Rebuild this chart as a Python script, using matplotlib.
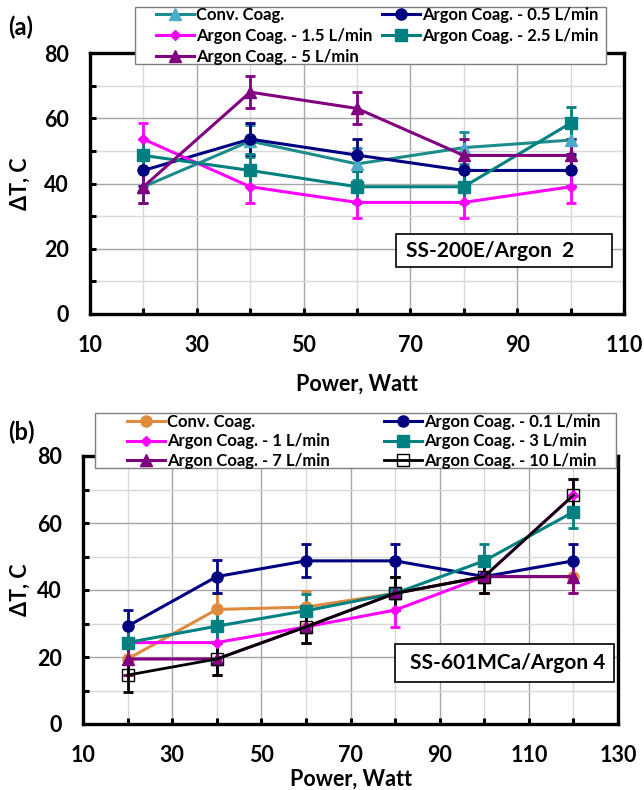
import numpy as np
import matplotlib
matplotlib.use("Agg")
import matplotlib.pyplot as plt
from matplotlib.patches import Rectangle
from matplotlib.ticker import MultipleLocator

plt.rcParams['font.family'] = ['Lato', 'DejaVu Sans']
plt.rcParams['font.weight'] = 'bold'

# ---- panel (a) data: SS-200E / Argon 2 ----
power_a = [20, 40, 60, 80, 100]
conv_a = [39, 53, 46, 51, 53.3]
argon05_a = [44, 53.6, 48.7, 44, 44]
argon15_a = [53.6, 39, 34.2, 34.2, 39]
argon25_a = [48.6, 44, 39, 39, 58.5]
argon5_a = [39, 68, 63, 48.6, 48.6]
err_a = 4.9

# ---- panel (b) data: SS-601MCa / Argon 4 ----
power_b = [20, 40, 60, 80, 100, 120]
conv_b = [19.4, 34.2, 34.9, 39, 44, 44]
argon01_b = [29.2, 44, 48.7, 48.7, 44, 48.7]
argon1_b = [24.3, 24.3, 29, 34, 44, 68.3]
argon3_b = [24.3, 29.2, 33.8, 39, 48.7, 63.3]
argon7_b = [19.4, 19.4, 29, 39, 44, 44]
argon10_b = [14.6, 19.4, 29, 39, 44, 68.3]
err_b = 4.9

W, H = 644, 790
fig = plt.figure(figsize=(W / 100, H / 100), dpi=100)


def fx(px):
    return px / W


def fy(py):
    return 1 - py / H


def box(x0, y0, x1, y1, ec='black', lw=1.2):
    # white framed box given in pixel coords (top-left origin)
    fig.add_artist(Rectangle((fx(x0), fy(y1)), fx(x1 - x0), (y1 - y0) / H,
                             transform=fig.transFigure, fc='white', ec=ec,
                             lw=lw, zorder=6))


def style_axes(ax, xmax):
    ax.set_xlim(10, xmax)
    ax.set_ylim(0, 80)
    ax.xaxis.set_minor_locator(MultipleLocator(10))
    ax.set_xticks(np.arange(10, xmax + 1, 20))
    ax.yaxis.set_major_locator(MultipleLocator(20))
    ax.yaxis.set_minor_locator(MultipleLocator(10))
    ax.grid(which='major', color='#A6A6A6', lw=1.0)
    ax.grid(which='minor', color='#D9D9D9', lw=1.0)
    ax.set_axisbelow(True)
    for s in ax.spines.values():
        s.set_linewidth(2.4)
        s.set_color('black')
    ax.tick_params(which='both', direction='in', length=4, width=2.2,
                   top=False, right=False)
    ax.tick_params(axis='both', which='major', labelsize=15.5, pad=15)
    for lab in ax.get_xticklabels() + ax.get_yticklabels():
        lab.set_fontweight('bold')


def series(ax, x, y, err, color, marker, ms=8, mfc=None, mec=None, lw=2.2):
    h = ax.errorbar(x, y, yerr=err, color=color, lw=lw, marker=marker, ms=ms,
                    mfc=mfc if mfc else color, mec=mec if mec else color,
                    elinewidth=2, capsize=3.5, capthick=2, zorder=3)
    return h.lines[0]


legend_kw = dict(ncol=2, loc='upper left', mode='expand',
                 bbox_transform=fig.transFigure, frameon=False,
                 prop={'size': 12, 'weight': 'bold'},
                 handlelength=2.3, handletextpad=0.1,
                 borderpad=0.0, borderaxespad=0)

# ================= panel (a) =================
ax1 = fig.add_axes([fx(90), fy(314), fx(624 - 90), (314 - 53) / H])
h_conv = series(ax1, power_a, conv_a, err_a, '#1E8C8C', '^',
                mfc='#4BACC6', mec='#4BACC6')
h05 = series(ax1, power_a, argon05_a, err_a, '#000080', 'o')
h15 = series(ax1, power_a, argon15_a, err_a, '#FF00FF', 'D', ms=5)
h25 = series(ax1, power_a, argon25_a, err_a, '#008080', 's')
h5 = series(ax1, power_a, argon5_a, err_a, '#800080', '^')
style_axes(ax1, 110)
ax1.set_xlabel('Power, Watt', fontsize=15.5, fontweight='bold', labelpad=13)
ax1.set_ylabel('ΔT, C', fontsize=15.5, fontweight='bold', labelpad=10)

box(135, 7, 606, 64, ec='#7F7F7F', lw=1.0)
leg1 = fig.legend([h_conv, h15, h5, h05, h25],
                  ['Conv. Coag.', 'Argon Coag. - 1.5 L/min', 'Argon Coag. - 5 L/min',
                   'Argon Coag. - 0.5 L/min', 'Argon Coag. - 2.5 L/min'],
                  bbox_to_anchor=(fx(156), fy(63), fx(598 - 156), (63 - 7) / H),
                  labelspacing=0.3, **legend_kw)
leg1.set_zorder(7)

box(396, 234, 612, 267)
fig.text(fx(406), fy(251), 'SS-200E/Argon  2', fontsize=15, fontweight='bold',
         va='center', ha='left', zorder=7)
fig.text(fx(8), fy(27), '(a)', fontsize=17, fontweight='bold', va='center', ha='left')

# ================= panel (b) =================
ax2 = fig.add_axes([fx(83), fy(724), fx(618 - 83), (724 - 456) / H])
hc = series(ax2, power_b, conv_b, err_b, '#E08A3E', 'o')
h01 = series(ax2, power_b, argon01_b, err_b, '#000080', 'o')
h1 = series(ax2, power_b, argon1_b, err_b, '#FF00FF', 'D', ms=5)
h3 = series(ax2, power_b, argon3_b, err_b, '#008080', 's')
h7 = series(ax2, power_b, argon7_b, err_b, '#800080', '^')
h10 = series(ax2, power_b, argon10_b, err_b, 'black', 's',
             mfc='none', mec='black', lw=2.0)
style_axes(ax2, 130)
ax2.set_xlabel('Power, Watt', fontsize=15.5, fontweight='bold', labelpad=2)
ax2.set_ylabel('ΔT, C', fontsize=15.5, fontweight='bold', labelpad=5)

box(95, 413, 616, 468, ec='#7F7F7F', lw=1.0)
leg2 = fig.legend([hc, h1, h7, h01, h3, h10],
                  ['Conv. Coag.', 'Argon Coag. - 1 L/min', 'Argon Coag. - 7 L/min',
                   'Argon Coag. - 0.1 L/min', 'Argon Coag. - 3 L/min',
                   'Argon Coag. - 10 L/min'],
                  bbox_to_anchor=(fx(127), fy(466), fx(600 - 127), (466 - 414) / H),
                  labelspacing=0.2, **legend_kw)
leg2.set_zorder(7)

box(395, 644, 614, 682)
fig.text(fx(410), fy(663), 'SS-601MCa/Argon 4', fontsize=15, fontweight='bold',
         va='center', ha='left', zorder=7)
fig.text(fx(8), fy(432), '(b)', fontsize=17, fontweight='bold', va='center', ha='left')

fig.savefig('out.png', dpi=100)
